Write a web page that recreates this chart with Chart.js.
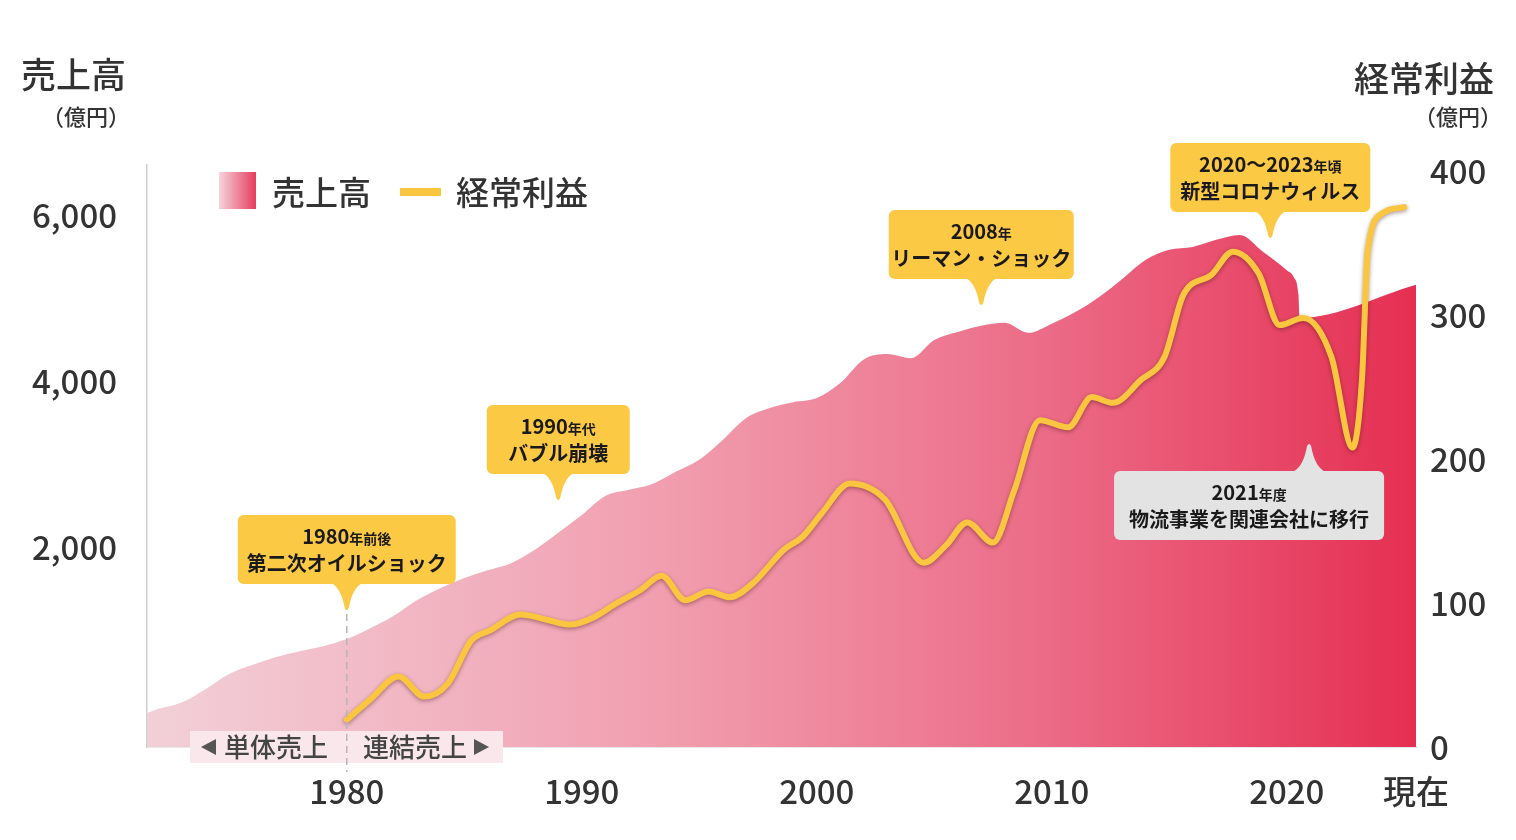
<!DOCTYPE html>
<html lang="ja">
<head>
<meta charset="utf-8">
<title>売上高・経常利益の推移</title>
<script src="https://cdn.jsdelivr.net/npm/chart.js@4.4.1/dist/chart.umd.min.js"></script>
<style>
  html, body { margin: 0; padding: 0; background: #fff; }
  #wrap { width: 1516px; height: 840px; }
</style>
</head>
<body>
<div id="wrap"><canvas id="chart" width="1516" height="840"></canvas></div>
<script>
// 売上高（億円） - 年（小数は曲線の形を合わせるための中間点）
const salesYears = [1971.5, 1972, 1973, 1974, 1975, 1976, 1977, 1978, 1979, 1980,
  1981, 1982, 1983, 1984, 1985, 1986, 1987, 1988, 1989, 1990,
  1991, 1992, 1993, 1994, 1995, 1996, 1997, 1998, 1999, 2000,
  2001, 2002, 2003, 2004, 2005, 2006, 2007, 2008, 2009, 2010,
  2011, 2012, 2013, 2014, 2015, 2016, 2017, 2018, 2019, 2020,
  2020.3, 2020.5, 2020.55, 2025.5];
const salesValues = [0, 50, 130, 290, 470, 580, 675, 745, 805, 890,
  1020, 1170, 1360, 1505, 1625, 1720, 1805, 1965, 2170, 2385,
  2615, 2690, 2760, 2905, 3050, 3290, 3555, 3675, 3745, 3795,
  3975, 4260, 4325, 4275, 4495, 4590, 4665, 4700, 4580, 4690,
  4830, 5010, 5230, 5460, 5580, 5615, 5700, 5760, 5555, 5335,
  5250, 5035, 4760, 5160];

// 経常利益（億円）
const profitYears = [1980, 1981, 1982.2, 1983.3, 1984.3, 1985.3, 1986.1, 1987.4, 1988.6, 1989.5,
  1990.5, 1991.5, 1992.5, 1993.4, 1994.4, 1995.4, 1996.3, 1997.3, 1998.6, 1999.4,
  2000.2, 2001.4, 2002.9, 2004.55, 2005.5, 2006.4, 2007.5, 2008.4, 2009.5, 2010.7,
  2011.7, 2012.6, 2013.8, 2014.8, 2015.6, 2016.8, 2017.7, 2018.8, 2019.7, 2020.7,
  2021.9, 2022.8, 2023.2, 2023.45, 2024.1, 2025.0];
const profitValues = [19, 33, 49, 35, 44, 74, 81, 92, 88, 85,
  90, 100, 109, 119, 102, 108, 104, 114, 137, 146,
  162, 183, 172, 128, 140, 156, 142, 178, 227, 222,
  243, 239, 255, 271, 314, 328, 344, 329, 293, 298,
  271, 208, 255, 345, 371, 375];

const xTickValues = [1980, 1990, 2000, 2010, 2020, 2025.5];
const xTickLabels = ['1980', '1990', '2000', '2010', '2020', '現在'];
const salesTicks = [2000, 4000, 6000];
const profitTicks = [0, 100, 200, 300, 400];

const FONT = '"Noto Sans CJK JP", "Noto Sans", sans-serif';
const TEXT = '#333333';
const YELLOW = '#fbc63f';

// 吹き出し
const callouts = [
  { year: 1980, dx: 0, top: 515, w: 218, big: '1980', small: '年前後', text: '第二次オイルショック', bg: '#fcc945', dir: 'down' },
  { year: 1989, dx: 0, top: 405, w: 143, big: '1990', small: '年代', text: 'バブル崩壊', bg: '#fcc945', dir: 'down' },
  { year: 2007, dx: 0, top: 210, w: 185, big: '2008', small: '年', text: 'リーマン・ショック', bg: '#fcc945', dir: 'down' },
  { year: 2019.3, dx: 0, top: 143, w: 200, big: '2020〜2023', small: '年頃', text: '新型コロナウィルス', bg: '#fcc945', dir: 'down' },
  { year: 2020.95, dx: -60, top: 471, w: 270, big: '2021', small: '年度', text: '物流事業を関連会社に移行', bg: '#e3e3e3', dir: 'up' }
];

function drawCallout(ctx, c, tx) {
  const h = 69, cx = tx + c.dx, left = cx - c.w / 2, top = c.top;
  ctx.save();
  ctx.fillStyle = c.bg;
  ctx.beginPath();
  ctx.roundRect(left, top, c.w, h, 6);
  ctx.fill();
  ctx.beginPath();
  if (c.dir === 'down') {
    const by = top + h - 1;
    ctx.moveTo(tx - 16, by);
    ctx.quadraticCurveTo(tx - 6, by + 4, tx - 2, by + 25);
    ctx.quadraticCurveTo(tx, by + 29, tx + 2, by + 25);
    ctx.quadraticCurveTo(tx + 6, by + 4, tx + 16, by);
  } else {
    const by = top + 1;
    ctx.moveTo(tx - 17, by);
    ctx.quadraticCurveTo(tx - 6, by - 4, tx - 2, by - 26);
    ctx.quadraticCurveTo(tx, by - 30, tx + 2, by - 26);
    ctx.quadraticCurveTo(tx + 6, by - 4, tx + 17, by);
  }
  ctx.closePath();
  ctx.fill();

  ctx.fillStyle = '#1a1a1a';
  ctx.textBaseline = 'alphabetic';
  ctx.textAlign = 'left';
  ctx.font = 'bold 20px ' + FONT;
  const wb = ctx.measureText(c.big).width;
  ctx.font = 'bold 14px ' + FONT;
  const ws = ctx.measureText(c.small).width;
  let x = cx - (wb + ws) / 2;
  ctx.font = 'bold 20px ' + FONT;
  ctx.fillText(c.big, x, top + 29);
  ctx.font = 'bold 14px ' + FONT;
  ctx.fillText(c.small, x + wb, top + 29);
  ctx.font = 'bold 20px ' + FONT;
  ctx.textAlign = 'center';
  ctx.fillText(c.text, cx, top + 56);
  ctx.restore();
}

const decorPlugin = {
  id: 'decor',
  beforeDatasetDraw(chart, args) {
    if (args.meta.yAxisID === 'y2') {
      const ctx = chart.ctx;
      ctx.save();
      ctx.shadowColor = 'rgba(70, 20, 20, 0.45)';
      ctx.shadowBlur = 4;
      ctx.shadowOffsetY = 1.5;
    }
  },
  afterDatasetDraw(chart, args) {
    if (args.meta.yAxisID === 'y2') chart.ctx.restore();
  },
  afterDraw(chart) {
    const ctx = chart.ctx;
    const xs = chart.scales.x;
    const x1980 = xs.getPixelForValue(1980);

    // 単体売上 / 連結売上 の帯
    ctx.save();
    ctx.fillStyle = '#f9e7eb';
    ctx.fillRect(190, 731, 313, 32);
    ctx.strokeStyle = '#b5b5b5';
    ctx.lineWidth = 1.5;
    ctx.setLineDash([7, 5]);
    ctx.beginPath();
    ctx.moveTo(x1980, 614);
    ctx.lineTo(x1980, 772);
    ctx.stroke();
    ctx.setLineDash([]);
    ctx.fillStyle = '#555';
    ctx.beginPath();
    ctx.moveTo(201, 747); ctx.lineTo(216, 739); ctx.lineTo(216, 755); ctx.closePath();
    ctx.fill();
    ctx.beginPath();
    ctx.moveTo(489, 747); ctx.lineTo(474, 739); ctx.lineTo(474, 755); ctx.closePath();
    ctx.fill();
    ctx.fillStyle = '#444';
    ctx.font = '500 26px ' + FONT;
    ctx.textBaseline = 'middle';
    ctx.textAlign = 'left';
    ctx.fillText('単体売上', 224, 747);
    ctx.textAlign = 'right';
    ctx.fillText('連結売上', 467, 747);
    ctx.restore();

    callouts.forEach(c => drawCallout(ctx, c, xs.getPixelForValue(c.year)));

    // 凡例
    ctx.save();
    const g = ctx.createLinearGradient(219, 0, 256, 0);
    g.addColorStop(0, '#f6d3db');
    g.addColorStop(1, '#e63d5e');
    ctx.fillStyle = g;
    ctx.fillRect(219, 172, 37, 37);
    ctx.strokeStyle = YELLOW;
    ctx.lineWidth = 8;
    ctx.beginPath();
    ctx.moveTo(400, 192);
    ctx.lineTo(441, 192);
    ctx.stroke();
    ctx.fillStyle = TEXT;
    ctx.font = '500 33px ' + FONT;
    ctx.textBaseline = 'middle';
    ctx.textAlign = 'left';
    ctx.fillText('売上高', 272, 192);
    ctx.fillText('経常利益', 456, 192);

    // 軸タイトル
    ctx.font = '500 35px ' + FONT;
    ctx.fillText('売上高', 21, 75);
    ctx.fillText('経常利益', 1354, 79);
    ctx.font = '500 22px ' + FONT;
    ctx.textAlign = 'center';
    ctx.fillText('（億円）', 86, 117);
    ctx.fillText('（億円）', 1458, 117);
    ctx.restore();
  }
};

const ctx = document.getElementById('chart');
new Chart(ctx, {
  type: 'line',
  data: {
    datasets: [
      {
        label: '経常利益',
        data: profitYears.map((yr, i) => ({ x: yr, y: profitValues[i] })),
        yAxisID: 'y2',
        borderColor: YELLOW,
        borderWidth: 6,
        borderCapStyle: 'round',
        borderJoinStyle: 'round',
        pointRadius: 0,
        fill: false,
        cubicInterpolationMode: 'monotone',
        order: 0
      },
      {
        label: '売上高',
        data: salesYears.map((yr, i) => ({ x: yr, y: salesValues[i] })),
        yAxisID: 'y',
        borderWidth: 0,
        pointRadius: 0,
        fill: 'start',
        cubicInterpolationMode: 'monotone',
        backgroundColor: (c) => {
          const area = c.chart.chartArea;
          if (!area) return '#ee8aa0';
          const g = c.chart.ctx.createLinearGradient(area.left, 0, area.right, 0);
          g.addColorStop(0, '#f2d0d8');
          g.addColorStop(0.4, '#f19fb0');
          g.addColorStop(0.7, '#ec6d88');
          g.addColorStop(1, '#e52f52');
          return g;
        },
        order: 1
      }
    ]
  },
  options: {
    responsive: false,
    devicePixelRatio: 1,
    animation: false,
    layout: { padding: { top: 165, left: 0, right: 0, bottom: 0 } },
    plugins: { legend: { display: false }, tooltip: { enabled: false } },
    scales: {
      x: {
        type: 'linear',
        min: 1971.5,
        max: 2025.5,
        grid: { display: false, drawTicks: false },
        border: { display: true, color: '#cfcfcf', width: 1.5 },
        afterBuildTicks: (s) => { s.ticks = xTickValues.map(v => ({ value: v })); },
        afterFit: (s) => { s.height = 93; },
        ticks: {
          autoSkip: false,
          maxRotation: 0,
          padding: 25,
          color: TEXT,
          font: { family: FONT, size: 33, weight: '500' },
          callback: (v) => xTickLabels[xTickValues.indexOf(v)]
        }
      },
      y: {
        position: 'left',
        min: -410,
        max: 6602,
        grid: { display: false, drawTicks: false },
        border: { display: true, color: '#cfcfcf', width: 1.5 },
        afterBuildTicks: (s) => { s.ticks = salesTicks.map(v => ({ value: v })); },
        afterFit: (s) => { s.width = 147; },
        ticks: {
          padding: 30,
          color: TEXT,
          font: { family: FONT, size: 33, weight: '500' },
          callback: (v) => v.toLocaleString('en-US')
        }
      },
      y2: {
        position: 'right',
        min: 0,
        max: 404.2,
        grid: { display: false, drawTicks: false },
        border: { display: false },
        afterBuildTicks: (s) => { s.ticks = profitTicks.map(v => ({ value: v })); },
        afterFit: (s) => { s.width = 100; },
        ticks: {
          padding: 14,
          color: TEXT,
          font: { family: FONT, size: 33, weight: '500' },
          callback: (v) => String(v)
        }
      }
    }
  },
  plugins: [decorPlugin]
});
</script>
</body>
</html>
